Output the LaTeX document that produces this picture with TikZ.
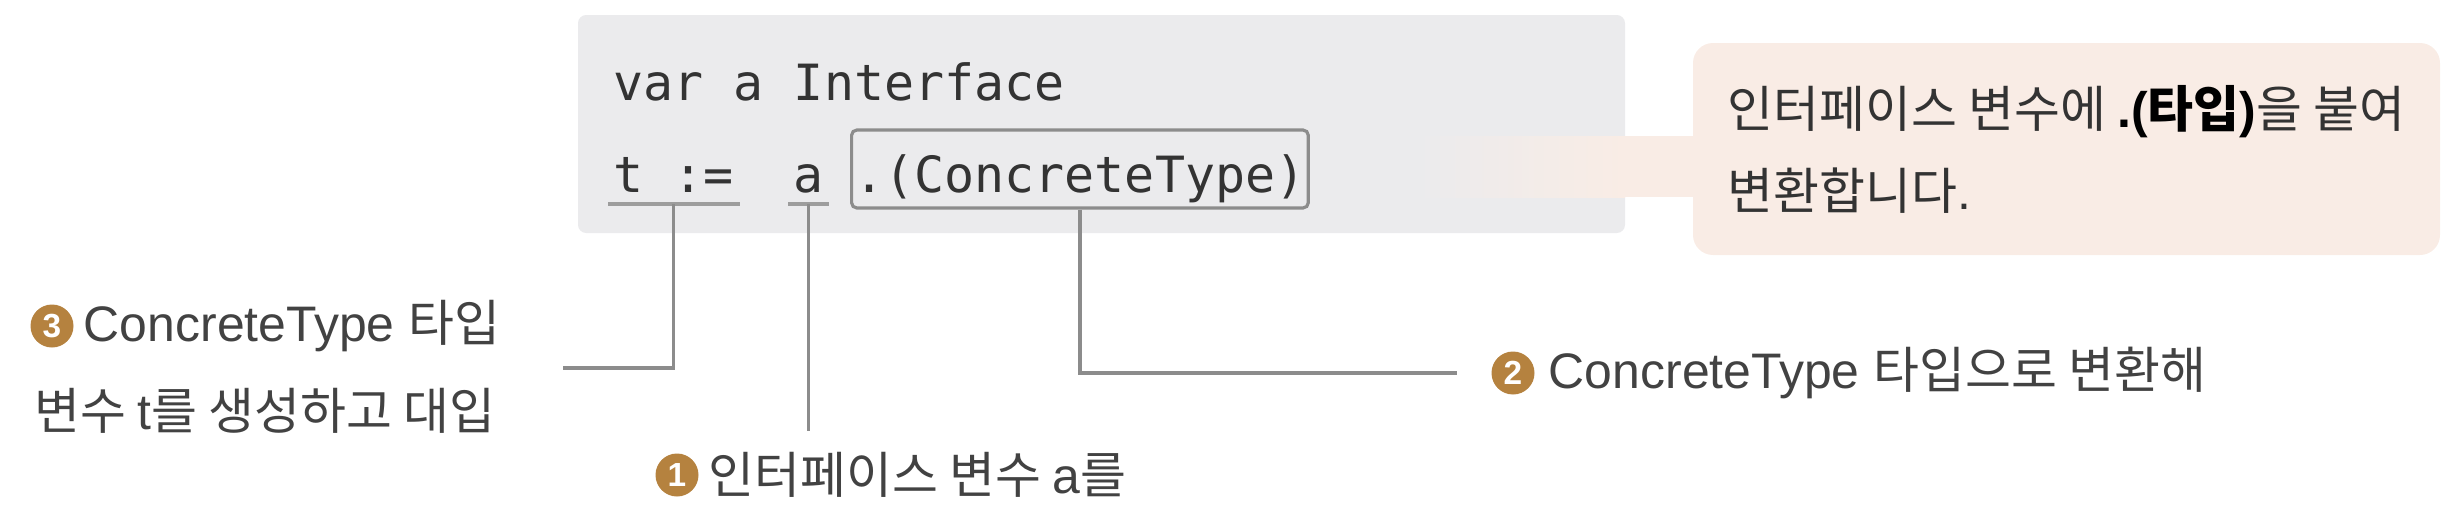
\documentclass[tikz,border=0pt]{standalone}
\usepackage{fontspec}
\setmainfont{Liberation Sans}
\setmonofont{DejaVu Sans Mono}
\newfontfamily\kofont{Noto Sans CJK KR}
\newcommand{\kor}[1]{{\kofont #1}}
\usepackage{tikz}
\usetikzlibrary{positioning}
\definecolor{codefill}{HTML}{EBEBED}
\definecolor{tipfill}{HTML}{F9ECE5}
\definecolor{codeink}{HTML}{333333}
\definecolor{labelgray}{HTML}{424242}
\definecolor{linkgray}{HTML}{8C8C8C}
\definecolor{numbrown}{HTML}{B5823F}

\begin{document}
\begin{tikzpicture}[node distance=0.09cm,
  code/.style={inner sep=0, anchor=base west, text=codeink, font=\ttfamily\fontsize{14.2}{17}\selectfont},
  codeword/.style={code, inner xsep=0.05cm, inner ysep=0.04cm, text height=0.5cm, text depth=0.075cm},
  castbox/.style={code, draw=linkgray, line width=0.9pt, rounded corners=1.5pt, inner xsep=0.03cm, inner ysep=0.04cm, text height=0.58cm, text depth=0.12cm},
  uline/.style={draw=linkgray!85, line width=1.2pt},
  link/.style={draw=linkgray, line width=0.9pt},
  numdot/.style={circle, fill=numbrown, text=white, inner sep=0, minimum size=0.43cm, font=\bfseries\fontsize{9.5}{10}\selectfont},
  lbl/.style={inner sep=0, anchor=west, text=labelgray, font=\fontsize{14.2}{17}\selectfont}]
  \useasboundingbox (0,0) rectangle (24.5,-5.08);
  % Backgrounds
  \node[fill=codefill, rounded corners=2.3pt, minimum width=10.47cm, minimum height=2.18cm, inner sep=0] (codebox) at (11.015,-1.24) {};
  \fill[left color=codefill, right color=tipfill] (14.17,-1.36) rectangle (16.25,-1.97);
  \fill[tipfill] (16.25,-1.36) rectangle (17.0,-1.97);
  \node[fill=tipfill, rounded corners=0.2cm, minimum width=7.47cm, minimum height=2.12cm, align=left, text=codeink, font=\fontsize{14.2}{23.3}\selectfont] (tip) at (20.665,-1.49)
    {\kor{인터페이스 변수에 }\textcolor{black}{\textbf{.(\kor{타입})}}\kor{을 붙여}\\\kor{변환합니다}.};
  % Code
  \node[code] (line1) at (6.13,-1.00) {var a Interface};
  \node[codeword] (tvar) at (6.08,-1.92) {t :=};
  \node[codeword] (avar) at (7.88,-1.92) {a};
  \node[castbox] (cast) at (8.50,-1.92) {.(ConcreteType)};
  \draw[uline] (tvar.south west) -- (tvar.south east);
  \draw[uline] (avar.south west) -- (avar.south east);
  % Labels
  \node[numdot] (n3) at (0.52,-3.26) {3};
  \node[lbl, right=of n3] (lab3a) {ConcreteType \kor{타입}};
  \node[lbl] (lab3b) at (0.34,-4.11) {\kor{변수 }t\kor{를 생성하고 대입}};
  \node[numdot] (n1) at (6.77,-4.75) {1};
  \node[lbl, right=of n1] (lab1) {\kor{인터페이스 변수 }a\kor{를}};
  \node[numdot] (n2) at (15.13,-3.73) {2};
  \node[lbl, right=0.13cm of n2] (lab2) {ConcreteType \kor{타입으로 변환해}};
  % Connections
  \coordinate (tend) at (5.63,-3.68);
  \coordinate (aend) at ([yshift=-2.27cm]avar.south);
  \draw[link] (tvar.south) |- (tend);
  \draw[link] (avar.south) -- (aend);
  \draw[link] (cast.south) |- ([xshift=-0.34cm]n2.west);
\end{tikzpicture}
\end{document}
